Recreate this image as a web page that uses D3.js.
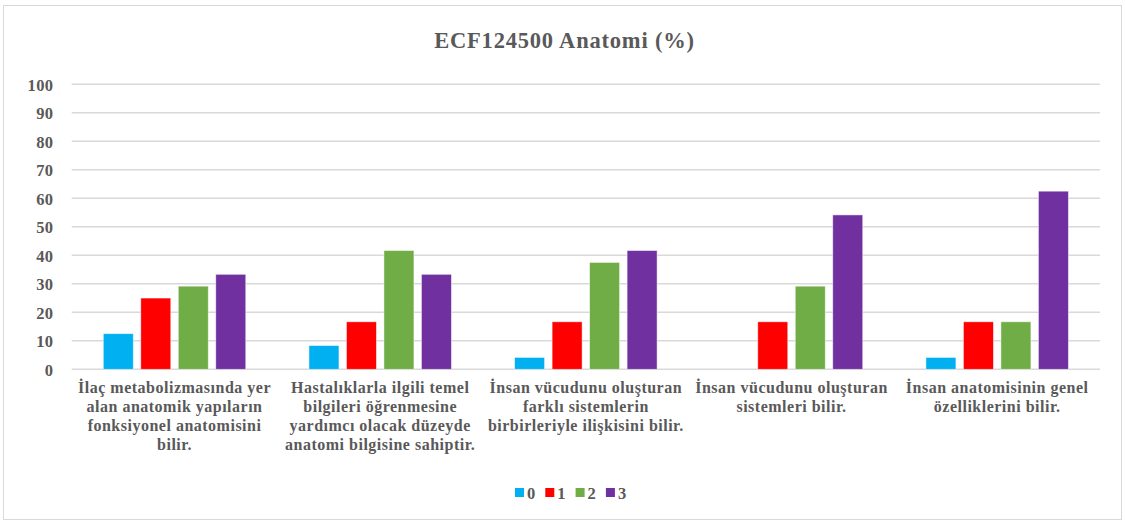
<!DOCTYPE html>
<html><head><meta charset="utf-8">
<script src="https://cdn.jsdelivr.net/npm/d3@7"></script>
<style>body{margin:0;background:#fff}svg{display:block}
svg text{font-family:"Liberation Serif","DejaVu Serif","Times New Roman",serif;}</style>
</head><body>
<script>
const title = "ECF124500 Anatomi (%)";
const categories = [
  ["İlaç metabolizmasında yer","alan anatomik yapıların","fonksiyonel anatomisini","bilir."],
  ["Hastalıklarla ilgili temel","bilgileri öğrenmesine","yardımcı olacak düzeyde","anatomi bilgisine sahiptir."],
  ["İnsan vücudunu oluşturan","farklı sistemlerin","birbirleriyle ilişkisini bilir."],
  ["İnsan vücudunu oluşturan","sistemleri bilir."],
  ["İnsan anatomisinin genel","özelliklerini bilir."]
];
const seriesNames = ["0","1","2","3"];
const s0 = [12.5, 8.33, 4.17, 0, 4.17];
const s1 = [25, 16.67, 16.67, 16.67, 16.67];
const s2 = [29.17, 41.67, 37.5, 29.17, 16.67];
const s3 = [33.33, 33.33, 41.67, 54.17, 62.5];
const seriesValues = [s0, s1, s2, s3];
const colors = ["#00B0F0", "#FF0000", "#70AD47", "#7030A0"];
const yTicks = [0,10,20,30,40,50,60,70,80,90,100];

(function(){
const W = 1125, H = 523;
const svg = d3.select("body").append("svg").attr("width", W).attr("height", H);
const txt = "#595959";

svg.append("rect").attr("x",3.5).attr("y",5.5).attr("width",1118).attr("height",514)
  .attr("fill","#fff").attr("stroke","#d9d9d9").attr("stroke-width",1);

const pl = 71.7, pr = 1100, pt = 84.3, pb = 369.3;
const y = d3.scaleLinear().domain([0,100]).range([pb, pt]);
const x0 = d3.scaleBand().domain(d3.range(categories.length)).range([pl, pr]).padding(0);
const step = x0.bandwidth() * 0.1823;
const x1 = d3.scaleBand().domain(d3.range(seriesNames.length))
  .range([x0.bandwidth()/2 - 2*step, x0.bandwidth()/2 + 2*step]).paddingInner(0.2).paddingOuter(0.1);

svg.append("g").selectAll("line").data(yTicks).join("line")
  .attr("x1", pl).attr("x2", pr)
  .attr("y1", d => y(d)).attr("y2", d => y(d))
  .attr("stroke", "#d9d9d9").attr("stroke-width", 1.5);

const yAxis = d3.axisLeft(y).tickValues(yTicks).tickSize(0).tickPadding(0);
const ga = svg.append("g").attr("transform", `translate(${53.5},0)`).call(yAxis);
ga.select(".domain").remove();
ga.attr("font-family", null);
ga.selectAll("text").attr("font-weight","bold")
  .attr("font-size", 16.5).attr("fill", txt).attr("dy","0.35em")
  .style("letter-spacing","0.4px");

const groups = svg.append("g").selectAll("g").data(categories).join("g")
  .attr("transform", (d,i) => `translate(${x0(i)},0)`);
groups.selectAll("rect").data((d,i) => seriesValues.map((s,j) => ({j, v: s[i]})))
  .join("rect")
  .attr("x", d => x1(d.j)).attr("width", x1.bandwidth())
  .attr("y", d => y(d.v)).attr("height", d => y(0) - y(d.v))
  .attr("fill", d => colors[d.j])
  .attr("stroke", "#fff").attr("stroke-opacity", 0.6).attr("stroke-width", 0.8);

const cl = svg.append("g").selectAll("text").data(categories).join("text")
  .attr("x", (d,i) => x0(i) + x0.bandwidth()/2)
  .attr("y", 393)
  .attr("text-anchor","middle")
  .attr("font-weight","bold").attr("font-size", 16).attr("fill", txt)
  .style("letter-spacing","0.5px");
cl.selectAll("tspan").data(d => d).join("tspan")
  .attr("x", function(){ return this.parentNode.getAttribute("x"); })
  .attr("dy", (d,i) => i === 0 ? 0 : 19)
  .text(d => d);

svg.append("text").attr("x", 564.5).attr("y", 47.5).attr("text-anchor","middle")
  .attr("font-weight","bold").attr("font-size", 22.5).attr("fill", txt)
  .style("letter-spacing","0.8px")
  .text(title);

const lg = svg.append("g").selectAll("g").data(seriesNames).join("g")
  .attr("transform", (d,i) => `translate(${515 + i*30.3},0)`);
lg.append("rect").attr("x",0).attr("y",488).attr("width",9).attr("height",9)
  .attr("fill",(d,i)=>colors[i]);
lg.append("text").attr("x",12).attr("y",498.5).attr("font-weight","bold")
  .attr("font-size",16.5).attr("fill",txt).text(d=>d);
})();
</script>
</body></html>
